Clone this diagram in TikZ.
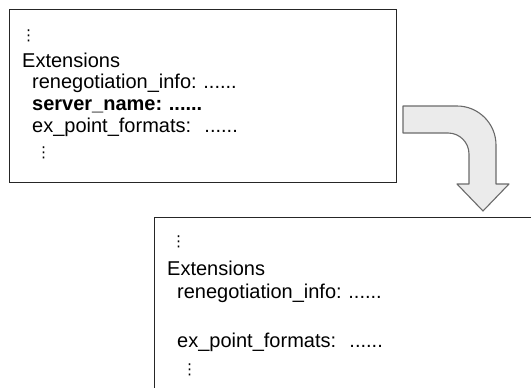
\documentclass[tikz,border=0pt]{standalone}
\usepackage{fontspec}
\setmainfont{Liberation Sans}
\newfontfamily\vdotsfont{DejaVu Sans}
\usetikzlibrary{positioning}
\definecolor{turn-fill}{HTML}{EBEBEB}
\definecolor{turn-line}{HTML}{6A6A6A}
\frenchspacing

\begin{document}
\begin{tikzpicture}[x=1pt, y=-1pt, node distance=21.7pt,
    panel/.style={draw=black!85, line width=1.2pt, anchor=north west, inner sep=0pt},
    entry/.style={inner sep=0pt, text width=300pt, text height=14pt, text depth=5pt,
      font=\fontsize{20}{22}\selectfont},
    vdot/.style={entry, font=\fontsize{15}{18}\vdotsfont}]
    \useasboundingbox (0,0) rectangle (531,388);
    % before
    \node[panel, minimum width=387pt, minimum height=173pt] (before) at (9,9) {};
    \node[entry, anchor=base west] (ext1) at (22,67) {Extensions};
    \node[vdot, above of=ext1, node distance=26pt, xshift=-1pt] (top1) {⋮};
    \node[entry, below of=ext1, xshift=10pt] (reneg1) {renegotiation\_info: ......};
    \node[entry, below of=reneg1] (sname1) {\textbf{server\_name: ......}};
    \node[entry, below of=sname1] (expf1) {ex\_point\_formats:\ \ ......};
    \node[vdot, below of=expf1, node distance=25pt, xshift=4pt] (bot1) {⋮};
    % after
    \node[panel, minimum width=420pt, minimum height=200pt] (after) at (154,217) {};
    \node[entry, anchor=base west] (ext2) at (167,275) {Extensions};
    \node[vdot, above of=ext2, node distance=29pt, xshift=4pt] (top2) {⋮};
    \node[entry, below of=ext2, node distance=23.5pt, xshift=10pt] (reneg2) {renegotiation\_info: ......};
    \node[entry, below of=reneg2, node distance=49pt] (expf2) {ex\_point\_formats:\ \ ......};
    \node[vdot, below of=expf2, node distance=27pt, xshift=5pt] (bot2) {⋮};
    % bent arrow
    \draw[fill=turn-fill, draw=turn-line, line width=1.1pt, line join=round]
      (403,106) -- (457,106) .. controls (478.5,106) and (496,123.5) .. (496,145)
      -- (496,184) -- (509,184) -- (483,211) -- (457,184) -- (469,184) -- (469,154)
      .. controls (469,142.4) and (459.6,133) .. (448,133) -- (403,133) -- cycle;
\end{tikzpicture}
\end{document}
